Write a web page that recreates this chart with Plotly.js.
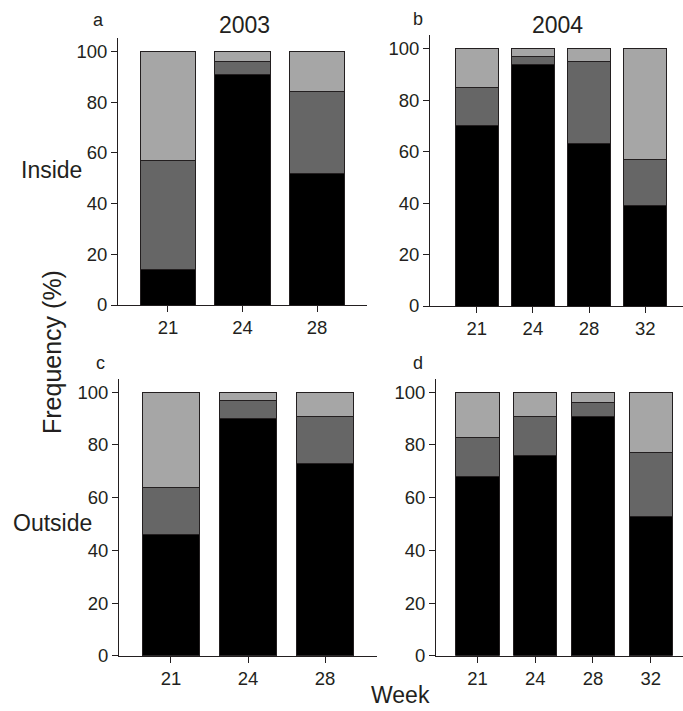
<!DOCTYPE html>
<html>
<head>
<meta charset="utf-8">
<script src="https://cdn.plot.ly/plotly-3.0.1.min.js"></script>
<style>html,body{margin:0;padding:0;background:#fff;}#chart{width:683px;height:711px;}</style>
</head>
<body>
<div id="chart"></div>
<script>
// Categories (week)
const weeks2003 = ['21', '24', '28'];
const weeks2004 = ['21', '24', '28', '32'];

// Panel a: Inside 2003 (segment heights, %)
const aBlack = [14, 91, 52];
const aDark  = [43, 5, 32];
const aLight = [43, 4, 16];

// Panel b: Inside 2004
const bBlack = [70, 94, 63, 39];
const bDark  = [15, 3, 32, 18];
const bLight = [15, 3, 5, 43];

// Panel c: Outside 2003
const cBlack = [46, 90, 73];
const cDark  = [18, 7, 18];
const cLight = [36, 3, 9];

// Panel d: Outside 2004
const dBlack = [68, 76, 91, 53];
const dDark  = [15, 15, 5, 24];
const dLight = [17, 9, 4, 23];

const yTicks = [0, 20, 40, 60, 80, 100];

const INK = '#231f20';
const FONT = 'Liberation Sans, Arial, Helvetica, sans-serif';
const colBlack = '#000000', colDark = '#666666', colLight = '#a6a6a6';

function stack(xa, ya, cats, vals, w) {
  const cols = [colBlack, colDark, colLight];
  return vals.map((v, i) => ({
    type: 'bar', x: cats, y: v, xaxis: xa, yaxis: ya, width: w,
    marker: {color: cols[i], line: {color: INK, width: 1}},
    showlegend: false, hoverinfo: 'y'
  }));
}

const data = [].concat(
  stack('x', 'y', weeks2003, [aBlack, aDark, aLight], 0.74),
  stack('x2', 'y2', weeks2004, [bBlack, bDark, bLight], 0.76),
  stack('x3', 'y3', weeks2003, [cBlack, cDark, cLight], 0.75),
  stack('x4', 'y4', weeks2004, [dBlack, dDark, dLight], 0.75)
);

const W = 683, H = 711;
function xax(l, r, range, anchor) {
  return {domain: [l / W, r / W], range: range, type: 'category', anchor: anchor,
    showline: true, linecolor: INK, linewidth: 1, ticks: 'outside', ticklen: 6,
    tickcolor: INK, tickwidth: 1, showgrid: false, zeroline: false,
    tickfont: {family: FONT, size: 18.5, color: INK}, fixedrange: true};
}
function yax(top, bottom, y0, y100, anchor) {
  const per = (y0 - y100) / 100;
  const rtop = (y0 - top) / per;
  return {domain: [1 - y0 / H, 1 - top / H], range: [0, rtop], anchor: anchor,
    showline: true, linecolor: INK, linewidth: 1, ticks: 'outside', ticklen: 6,
    tickcolor: INK, tickwidth: 1, showgrid: false, zeroline: false,
    tickvals: yTicks, ticktext: yTicks.map(String),
    tickfont: {family: FONT, size: 18.5, color: INK}, fixedrange: true};
}

function ann(text, x, y, size, angle) {
  return {text: text, x: x / W, y: 1 - y / H, xref: 'paper', yref: 'paper',
    showarrow: false, xanchor: 'center', yanchor: 'middle', textangle: angle || 0,
    font: {family: FONT, size: size, color: INK}};
}

const layout = {
  width: W, height: H, margin: {l: 0, r: 0, t: 0, b: 0},
  paper_bgcolor: '#fff', plot_bgcolor: 'rgba(0,0,0,0)',
  barmode: 'stack', bargap: 0.25,
  xaxis: xax(118, 367, [-0.67, 2.67], 'y'),
  yaxis: yax(38, 305, 305, 51.3, 'x'),
  xaxis2: xax(430, 683, [-0.83, 3.67], 'y2'),
  yaxis2: yax(35, 306, 306, 48.7, 'x2'),
  xaxis3: xax(119, 377, [-0.675, 2.675], 'y3'),
  yaxis3: yax(379, 656, 655.7, 392.3, 'x3'),
  xaxis4: xax(436, 683, [-0.72, 3.56], 'y4'),
  yaxis4: yax(379, 656, 655.7, 392.3, 'x4'),
  annotations: [
    ann('a', 98, 20, 18), ann('2003', 244, 25, 23),
    ann('b', 418, 19, 18), ann('2004', 557, 25, 23),
    ann('c', 100, 363, 18), ann('d', 418, 363, 18),
    ann('Inside', 51, 170, 23), ann('Outside', 52, 523, 23),
    ann('Frequency (%)', 52, 352, 25, -90),
    ann('Week', 400, 695, 23)
  ]
};

Plotly.newPlot('chart', data, layout, {staticPlot: true, displayModeBar: false});
</script>
</body>
</html>
